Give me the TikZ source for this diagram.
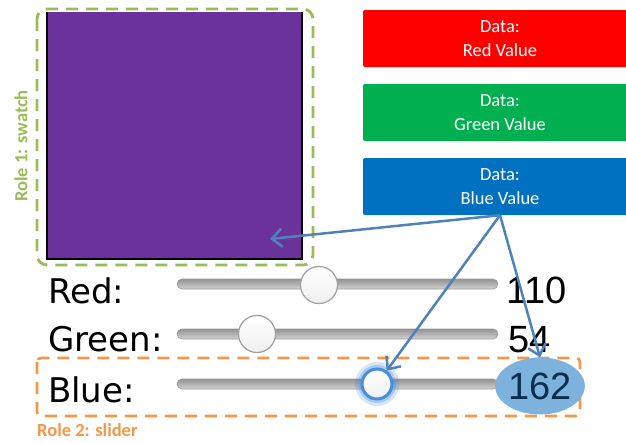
\documentclass[tikz,border=0pt]{standalone}
\usepackage{fontspec}
\setmainfont{Carlito}
\newfontfamily\uifont{DejaVu Sans}
\newfontfamily\numfont{Liberation Sans}
\usetikzlibrary{arrows.meta,shapes.geometric}

\definecolor{swatchpurple}{RGB}{108,50,156}
\definecolor{rolegreen}{RGB}{155,187,89}
\definecolor{roleorange}{RGB}{247,150,70}
\definecolor{datared}{RGB}{255,0,0}
\definecolor{datagreen}{RGB}{0,176,80}
\definecolor{datablue}{RGB}{0,112,192}
\definecolor{linkblue}{RGB}{79,129,189}
\definecolor{valuefill}{RGB}{125,178,220}
\definecolor{valuetext}{RGB}{10,45,80}
\definecolor{focusblue}{RGB}{70,140,225}

\tikzset{
  databox/.style={rectangle, rounded corners=2pt, minimum width=274pt, minimum height=57pt,
    text=white, font=\fontsize{18.5}{24}\selectfont, align=center, inner sep=0pt},
  rowlabel/.style={anchor=base west, inner sep=0pt, font=\uifont\fontsize{34}{34}\selectfont},
  rownum/.style={anchor=base west, inner sep=0pt, font=\numfont\fontsize{38}{38}\selectfont},
  track/.style={rounded corners=5pt, top color=gray!85, bottom color=gray!35, draw=gray!80, line width=0.6pt},
  thumb/.style={circle, minimum size=37pt, inner sep=0pt, draw=gray!75, line width=1.2pt,
    top color=white, bottom color=gray!12},
  roleframe/.style={dash pattern=on 12pt off 8pt, line width=2.8pt},
  rolelabel/.style={font=\bfseries\fontsize{18.5}{18.5}\selectfont, inner sep=0pt},
  link/.style={draw=linkblue, line width=2.5pt, -{Straight Barb[length=10pt,width=18pt]}},
}

\begin{document}
\begin{tikzpicture}[x=1pt,y=-1pt]
\useasboundingbox (0,0) rectangle (626,442);

% colour swatch with its black edges
\node[rectangle, fill=swatchpurple, minimum width=255pt, minimum height=247pt, inner sep=0pt]
  (swatch) at (174.5,135.5) {};
\draw[black, line width=2.5pt] (swatch.north west) -- (swatch.south west)
  -- (swatch.south east) -- (swatch.north east);

% role 1 frame
\draw[rolegreen, roleframe, rounded corners=10pt] (37,9) rectangle (313,265);
\node[rolelabel, text=rolegreen, rotate=90] (role1) at (21,146) {Role 1: swatch};

% data values
\node[databox, fill=datared]   (rdata) at (500,38.5)  {Data:\\Red Value};
\node[databox, fill=datagreen] (gdata) at (500,112.5) {Data:\\Green Value};
\node[databox, fill=datablue]  (bdata) at (500,186.5) {Data:\\Blue Value};

% slider rows
\node[rowlabel] (lred)   at (48,303) {Red:};
\node[rowlabel] (lgreen) at (48,351) {Green:};
\node[rowlabel] (lblue)  at (48,402) {Blue:};

\draw[track] (177,279) rectangle (498,289);
\draw[track] (177,329) rectangle (498,339);
\draw[track] (177,379) rectangle (498,389);

\node[thumb] (rthumb) at (319,285) {};
\node[thumb] (gthumb) at (257,334) {};

% focused thumb with glow
\fill[focusblue, opacity=0.22] (377,384) circle (22);
\fill[focusblue, opacity=0.3] (377,384) circle (19);
\node[circle, minimum size=30pt, inner sep=0pt, draw=focusblue, line width=3pt,
  top color=white, bottom color=gray!12] (bthumb) at (377,384) {};

\node[rownum] (vred)   at (506,303) {110};
\node[rownum] (vgreen) at (508,352) {54};

% role 2 frame
\draw[roleorange, roleframe, rounded corners=4pt] (37,358) rectangle (580,416);
\node[rolelabel, text=roleorange, anchor=base west] (role2) at (37,436.5) {Role 2: slider};

\node[ellipse, fill=valuefill, minimum width=80pt, minimum height=57pt, inner sep=0pt,
  text=valuetext, font=\numfont\fontsize{38}{38}\selectfont] (vblue) at (540,386) {162};

% links from the blue value
\coordinate (swatchpt) at (270,239);
\draw[link] (bdata.south) -- (swatchpt);
\draw[link] (bdata.south) -- (bthumb);
\draw[link] (bdata.south) -- (vblue.north);
\end{tikzpicture}
\end{document}
